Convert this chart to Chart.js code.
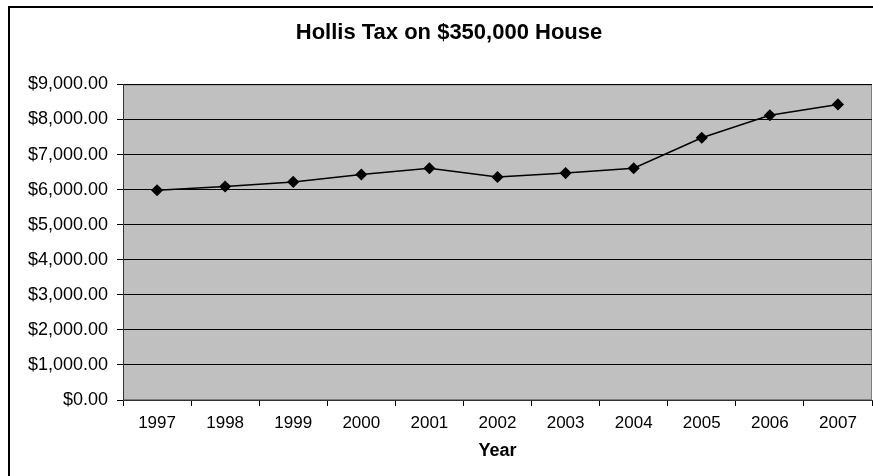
<!DOCTYPE html>
<html>
<head>
<meta charset="utf-8">
<title>Hollis Tax on $350,000 House</title>
<script src="https://cdn.jsdelivr.net/npm/chart.js@4.4.0/dist/chart.umd.min.js"></script>
<style>
  html, body { margin: 0; padding: 0; background: #fff; overflow: hidden; }
</style>
</head>
<body>
<canvas id="myChart" width="898" height="482"></canvas>
<script>
const years = ['1997', '1998', '1999', '2000', '2001', '2002', '2003', '2004', '2005', '2006', '2007'];
const taxValues = [5980, 6090, 6220, 6430, 6610, 6360, 6470, 6610, 7480, 8120, 8430];
const yTicks = [0, 1000, 2000, 3000, 4000, 5000, 6000, 7000, 8000, 9000];

const fontFamily = '"Liberation Sans", Arial, sans-serif';

// grey plot background + outer frame
const frame = {
    id: 'frame',
    beforeDraw(chart) {
        const ctx = chart.ctx;
        const a = chart.chartArea;
        ctx.save();
        ctx.fillStyle = '#fff';
        ctx.fillRect(0, 0, chart.width, chart.height);
        ctx.fillStyle = '#C0C0C0';
        ctx.fillRect(a.left, a.top, a.right - a.left, a.bottom - a.top);
        ctx.strokeStyle = '#808080';
        ctx.lineWidth = 1;
        ctx.strokeRect(a.left + 0.5, a.top + 0.5, a.right - a.left - 1, a.bottom - a.top - 1);
        ctx.strokeStyle = '#000';
        ctx.lineWidth = 2;
        ctx.strokeRect(9, 7, 881, 471);
        ctx.restore();
    }
};

new Chart(document.getElementById('myChart').getContext('2d'), {
    type: 'line',
    data: {
        labels: years,
        datasets: [{
            label: 'Tax',
            data: taxValues,
            borderColor: '#000',
            borderWidth: 1.5,
            backgroundColor: '#000',
            pointStyle: 'rectRot',
            pointRadius: 5,
            pointBackgroundColor: '#000',
            pointBorderColor: '#000',
            tension: 0
        }]
    },
    options: {
        responsive: false,
        animation: false,
        devicePixelRatio: 1,
        layout: { padding: 0 },
        plugins: {
            legend: { display: false },
            tooltip: { enabled: false },
            title: {
                display: true,
                text: 'Hollis Tax on $350,000 House',
                color: '#000',
                font: { family: fontFamily, size: 22, weight: 'bold' },
                padding: { top: 20, bottom: 38 }
            }
        },
        scales: {
            x: {
                offset: true,
                afterFit: s => { s.height = 82; },
                grid: {
                    display: true,
                    offset: true,
                    drawOnChartArea: false,
                    drawTicks: true,
                    tickLength: 6,
                    color: '#000'
                },
                border: { display: true, color: '#333', width: 1 },
                ticks: {
                    color: '#000',
                    padding: 7,
                    maxRotation: 0,
                    font: { family: fontFamily, size: 17 }
                },
                title: {
                    display: true,
                    text: 'Year',
                    color: '#000',
                    font: { family: fontFamily, size: 18, weight: 'bold' },
                    padding: { top: 0, bottom: 20 }
                }
            },
            y: {
                min: 0,
                max: 9000,
                afterFit: s => { s.width = 123; },
                afterBuildTicks: s => { s.ticks = yTicks.map(v => ({ value: v })); },
                grid: {
                    color: '#000',
                    lineWidth: 1,
                    drawTicks: true,
                    tickLength: 6
                },
                border: { display: true, color: '#333', width: 1 },
                ticks: {
                    color: '#000',
                    padding: 9,
                    font: { family: fontFamily, size: 18 },
                    callback: v => '$' + v.toLocaleString('en-US', { minimumFractionDigits: 2, maximumFractionDigits: 2 })
                }
            },
            // empty right-hand strip, keeps the plot ending at the window edge
            yRight: {
                position: 'right',
                min: 0,
                max: 9000,
                afterFit: s => { s.width = 26; },
                grid: { display: false },
                border: { display: false },
                ticks: { display: false }
            }
        }
    },
    plugins: [frame]
});
</script>
</body>
</html>
